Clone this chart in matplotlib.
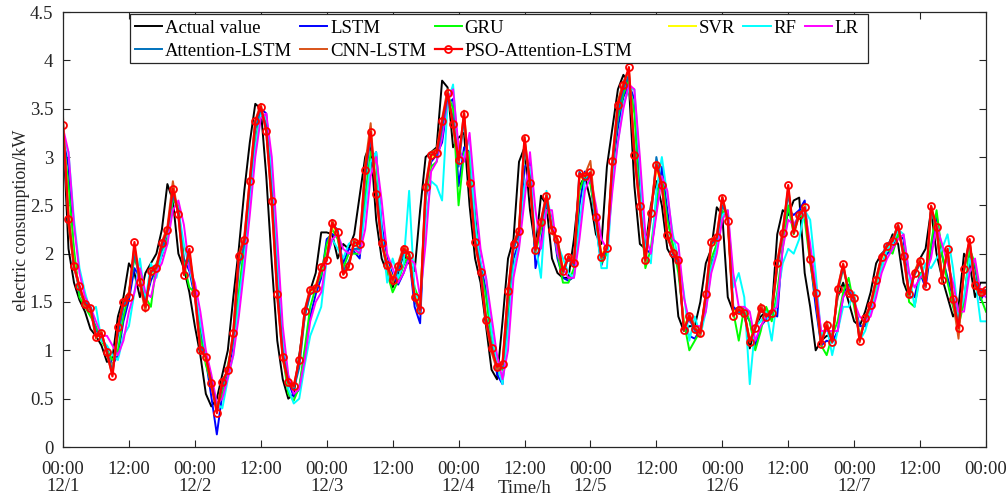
import numpy as np
import matplotlib
matplotlib.use('Agg')
import matplotlib.pyplot as plt
from matplotlib.patches import Rectangle

plt.rcParams['font.family'] = ['Liberation Serif', 'DejaVu Serif']

# ---------------- data (hourly, 12/1 00:00 -> 12/8 00:00) ----------------
actual = [
    3.30, 2.05, 1.70, 1.52, 1.40, 1.22, 1.15, 1.05, 0.88, 0.92,
    1.35, 1.55, 1.90, 1.80, 1.55, 1.80, 1.90, 2.00, 2.25, 2.72,
    2.55, 2.00, 1.85, 1.60, 1.25, 0.95, 0.55, 0.42, 0.50, 0.75,
    1.00, 1.55, 2.05, 2.65, 3.15, 3.55, 3.50, 2.80, 1.90, 1.10,
    0.70, 0.50, 0.55, 0.95, 1.35, 1.62, 1.80, 2.22, 2.22, 2.20,
    1.95, 2.10, 2.05, 2.20, 2.60, 3.00, 3.15, 2.35, 1.95, 1.80,
    1.65, 1.80, 2.00, 1.90, 1.82, 2.45, 3.00, 3.05, 3.10, 3.79,
    3.72, 3.10, 3.20, 3.25, 2.50, 1.95, 1.70, 1.25, 0.80, 0.70,
    1.30, 1.95, 2.15, 2.95, 3.10, 2.45, 2.05, 2.60, 2.50, 1.95,
    1.80, 1.75, 1.75, 2.15, 2.70, 2.80, 2.55, 2.20, 2.10, 2.90,
    3.30, 3.70, 3.85, 3.75, 2.70, 2.10, 2.05, 2.50, 2.75, 2.50,
    2.05, 1.95, 1.35, 1.20, 1.25, 1.25, 1.50, 1.90, 2.05, 2.48,
    2.40, 1.55, 1.40, 1.45, 1.40, 1.02, 1.25, 1.35, 1.40, 1.40,
    2.20, 2.45, 2.40, 2.55, 2.58, 1.80, 1.45, 1.00, 1.10, 1.15,
    1.15, 1.55, 1.70, 1.50, 1.30, 1.25, 1.40, 1.60, 1.90, 2.00,
    2.05, 2.20, 2.10, 1.70, 1.55, 1.80, 1.95, 2.05, 2.45, 2.00,
    1.75, 1.55, 1.35, 1.45, 2.00, 1.90, 1.55, 1.70, 1.70]

lstm = [
    3.20, 2.90, 1.95, 1.62, 1.48, 1.40, 1.20, 1.12, 1.02, 0.85,
    0.95, 1.30, 1.52, 1.85, 1.75, 1.50, 1.72, 1.85, 1.98, 2.20,
    2.62, 2.45, 1.95, 1.82, 1.55, 1.20, 0.90, 0.52, 0.13, 0.55,
    0.78, 1.05, 1.55, 2.02, 2.62, 3.12, 3.50, 3.45, 2.75, 1.85,
    1.05, 0.68, 0.52, 0.60, 0.98, 1.35, 1.58, 1.75, 2.15, 2.20,
    2.18, 1.90, 2.05, 2.02, 1.95, 2.55, 2.95, 3.05, 2.30, 1.95,
    1.78, 1.68, 1.80, 1.97, 1.45, 1.28, 2.55, 2.95, 3.02, 3.15,
    3.55, 3.60, 2.70, 3.10, 3.05, 2.40, 1.90, 1.62, 1.20, 0.75,
    0.65, 1.35, 1.95, 2.12, 2.90, 2.95, 1.85, 2.10, 2.55, 2.35,
    1.95, 1.75, 1.72, 1.76, 2.50, 2.85, 2.75, 2.30, 1.88, 2.05,
    2.85, 3.30, 3.62, 3.75, 3.60, 2.60, 2.05, 2.00, 2.45, 2.90,
    2.45, 2.00, 1.90, 1.25, 1.15, 1.12, 1.22, 1.48, 1.88, 2.05,
    2.42, 2.40, 1.45, 1.40, 1.40, 1.30, 1.05, 1.25, 1.32, 1.38,
    1.35, 2.10, 2.45, 2.40, 2.45, 2.55, 1.95, 1.45, 1.05, 1.10,
    1.08, 1.20, 1.55, 1.68, 1.50, 1.25, 1.25, 1.40, 1.62, 1.90,
    2.00, 2.05, 2.20, 2.15, 1.55, 1.55, 1.80, 1.65, 2.05, 2.40,
    1.98, 1.75, 1.55, 1.35, 1.48, 2.00, 1.85, 1.52, 1.62]

gru = [
    3.25, 2.70, 2.05, 1.55, 1.45, 1.35, 1.25, 1.10, 1.00, 0.90,
    1.00, 1.35, 1.60, 1.95, 1.80, 1.55, 1.45, 1.90, 2.00, 2.15,
    2.55, 2.50, 1.90, 1.65, 1.60, 1.15, 0.85, 0.65, 0.40, 0.55,
    0.85, 1.10, 1.60, 2.10, 2.65, 3.15, 3.45, 3.35, 2.65, 1.75,
    0.95, 0.55, 0.48, 0.62, 1.02, 1.45, 1.65, 1.78, 2.10, 2.25,
    2.15, 1.85, 2.00, 2.00, 2.00, 2.60, 3.05, 2.95, 2.20, 1.80,
    1.60, 1.72, 1.88, 2.00, 1.65, 1.50, 2.60, 2.90, 2.95, 3.25,
    3.65, 3.50, 2.50, 3.05, 3.05, 2.35, 1.85, 1.55, 1.10, 0.80,
    0.80, 1.45, 2.05, 2.25, 3.10, 2.80, 2.00, 2.25, 2.45, 2.35,
    2.00, 1.70, 1.70, 1.85, 2.65, 2.82, 2.72, 2.35, 1.90, 2.00,
    2.90, 3.40, 3.65, 3.80, 3.45, 2.50, 1.85, 2.05, 2.55, 2.80,
    2.35, 2.10, 1.80, 1.30, 1.00, 1.10, 1.20, 1.55, 1.95, 2.10,
    2.45, 2.35, 1.40, 1.10, 1.45, 1.30, 1.00, 1.20, 1.45, 1.30,
    1.60, 2.05, 2.50, 2.20, 2.40, 2.35, 1.90, 1.55, 1.05, 0.95,
    1.15, 1.30, 1.60, 1.75, 1.45, 1.15, 1.30, 1.45, 1.65, 1.85,
    2.05, 2.00, 2.20, 2.05, 1.50, 1.45, 1.80, 1.70, 2.10, 2.45,
    2.00, 1.70, 1.45, 1.25, 1.50, 2.05, 1.90, 1.55, 1.40]

svr = [
    3.30, 2.45, 1.90, 1.65, 1.50, 1.42, 1.18, 1.15, 1.00, 0.80,
    1.20, 1.45, 1.58, 2.05, 1.75, 1.50, 1.78, 1.85, 2.08, 2.22,
    2.62, 2.45, 1.82, 2.00, 1.62, 1.05, 0.90, 0.70, 0.40, 0.62,
    0.82, 1.15, 1.90, 2.12, 2.70, 3.30, 3.50, 3.30, 2.60, 1.65,
    0.98, 0.70, 0.62, 0.85, 1.35, 1.60, 1.68, 1.84, 1.95, 2.28,
    2.22, 1.82, 1.90, 2.10, 2.08, 2.80, 3.22, 2.68, 2.15, 1.90,
    1.75, 1.85, 2.02, 1.98, 1.60, 1.45, 2.62, 3.00, 3.02, 3.35,
    3.62, 3.38, 3.00, 3.40, 2.78, 2.18, 1.85, 1.35, 1.05, 0.85,
    0.88, 1.55, 2.08, 2.20, 3.12, 2.75, 2.08, 2.30, 2.58, 2.28,
    2.15, 1.85, 1.95, 1.90, 2.78, 2.80, 2.82, 2.40, 2.00, 2.05,
    2.90, 3.50, 3.72, 3.88, 3.08, 2.52, 1.98, 2.40, 2.88, 2.72,
    2.22, 2.02, 1.95, 1.25, 1.35, 1.22, 1.20, 1.55, 2.08, 2.15,
    2.52, 2.35, 1.40, 1.42, 1.40, 1.12, 1.22, 1.42, 1.36, 1.38,
    1.85, 2.18, 2.65, 2.25, 2.40, 2.50, 1.98, 1.62, 1.10, 1.25,
    1.10, 1.58, 1.85, 1.60, 1.55, 1.15, 1.32, 1.45, 1.70, 1.95,
    2.05, 2.12, 2.28, 2.00, 1.60, 1.78, 1.90, 1.70, 2.42, 2.30,
    1.78, 2.00, 1.55, 1.28, 1.80, 2.12, 1.70, 1.60, 1.60]

rf = [
    3.20, 3.05, 2.35, 1.85, 1.60, 1.40, 1.45, 1.10, 1.05, 0.95,
    0.90, 1.15, 1.25, 1.60, 1.95, 1.50, 1.90, 1.75, 2.00, 2.10,
    2.65, 2.45, 2.10, 1.85, 1.60, 1.30, 0.95, 0.65, 0.45, 0.40,
    0.70, 0.95, 1.50, 1.95, 2.55, 3.10, 3.45, 3.40, 2.80, 1.90,
    1.10, 0.60, 0.45, 0.50, 0.85, 1.15, 1.30, 1.45, 1.95, 2.15,
    2.05, 1.95, 2.10, 2.15, 2.00, 2.45, 2.95, 3.05, 2.25, 1.70,
    1.95, 1.75, 1.90, 2.65, 1.60, 1.50, 2.35, 2.75, 2.70, 2.55,
    3.55, 3.75, 3.00, 3.00, 3.20, 2.30, 1.90, 1.75, 1.20, 0.85,
    0.65, 1.20, 1.85, 2.10, 2.70, 2.90, 2.10, 1.75, 2.65, 2.30,
    2.10, 1.95, 1.80, 1.75, 2.30, 2.75, 2.85, 2.30, 1.85, 1.85,
    2.75, 3.15, 3.55, 3.70, 3.70, 2.90, 2.00, 1.90, 2.65, 3.00,
    2.60, 2.20, 1.95, 1.60, 1.10, 1.35, 1.15, 1.40, 1.85, 2.05,
    2.40, 2.45, 1.65, 1.80, 1.55, 0.65, 1.25, 1.30, 1.40, 1.10,
    1.55, 1.90, 2.05, 2.00, 2.15, 2.45, 2.35, 1.80, 1.15, 1.25,
    0.95, 1.20, 1.45, 1.45, 1.60, 1.10, 1.20, 1.40, 1.60, 1.85,
    2.05, 2.10, 2.25, 2.20, 1.80, 1.45, 1.75, 1.90, 1.85, 1.95,
    2.05, 2.20, 1.85, 1.35, 1.55, 1.95, 1.75, 1.30, 1.30]

lr = [
    3.30, 3.05, 2.30, 1.80, 1.55, 1.45, 1.30, 1.15, 1.15, 1.05,
    0.95, 1.10, 1.40, 1.60, 1.85, 1.60, 1.55, 1.80, 1.90, 2.10,
    2.45, 2.55, 2.30, 1.85, 1.70, 1.40, 1.00, 0.75, 0.45, 0.50,
    0.72, 0.95, 1.35, 1.85, 2.40, 3.00, 3.40, 3.45, 3.00, 2.15,
    1.25, 0.75, 0.55, 0.60, 0.90, 1.30, 1.50, 1.60, 1.95, 2.15,
    2.20, 2.05, 2.00, 2.05, 2.00, 2.25, 2.80, 3.00, 2.55, 2.00,
    1.85, 1.70, 1.80, 1.95, 1.90, 1.55, 2.10, 2.85, 2.95, 3.20,
    3.60, 3.70, 3.10, 2.95, 3.25, 2.60, 2.05, 1.75, 1.35, 0.95,
    0.70, 1.00, 1.75, 2.05, 2.55, 3.05, 2.45, 2.05, 2.45, 2.45,
    2.00, 1.85, 1.75, 1.75, 2.15, 2.65, 2.80, 2.50, 2.15, 2.05,
    2.65, 3.15, 3.50, 3.75, 3.70, 3.00, 2.20, 2.00, 2.40, 2.80,
    2.65, 2.15, 2.10, 1.55, 1.30, 1.25, 1.25, 1.40, 1.80, 2.00,
    2.35, 2.45, 1.80, 1.45, 1.45, 1.40, 1.10, 1.25, 1.35, 1.40,
    1.45, 2.05, 2.35, 2.30, 2.40, 2.45, 2.10, 1.65, 1.20, 1.20,
    1.20, 1.20, 1.55, 1.65, 1.50, 1.35, 1.30, 1.35, 1.55, 1.80,
    1.95, 2.05, 2.15, 2.20, 1.80, 1.65, 1.75, 1.80, 1.95, 2.30,
    2.10, 1.90, 1.70, 1.40, 1.40, 1.80, 1.95, 1.60, 1.55]

att_lstm = [
    3.28, 2.40, 1.88, 1.62, 1.50, 1.45, 1.20, 1.16, 1.00, 0.78,
    1.15, 1.45, 1.58, 2.00, 1.72, 1.48, 1.80, 1.88, 2.05, 2.25,
    2.60, 2.45, 1.85, 1.95, 1.62, 1.05, 0.92, 0.68, 0.38, 0.62,
    0.82, 1.12, 1.85, 2.10, 2.70, 3.28, 3.50, 3.32, 2.62, 1.68,
    0.98, 0.68, 0.60, 0.82, 1.35, 1.58, 1.62, 1.85, 1.95, 2.30,
    2.25, 1.82, 1.92, 2.05, 2.05, 2.78, 3.20, 2.70, 2.15, 1.85,
    1.72, 1.82, 2.02, 2.00, 1.52, 1.38, 2.62, 3.05, 3.00, 3.30,
    3.62, 3.40, 2.90, 3.40, 2.80, 2.15, 1.85, 1.35, 1.05, 0.80,
    0.82, 1.55, 2.05, 2.20, 3.10, 2.78, 2.05, 2.30, 2.55, 2.25,
    2.10, 1.80, 1.95, 1.88, 2.85, 2.75, 2.82, 2.40, 1.95, 2.05,
    2.90, 3.45, 3.70, 3.85, 3.10, 2.50, 1.95, 2.35, 3.00, 2.70,
    2.20, 2.00, 1.90, 1.22, 1.33, 1.20, 1.18, 1.55, 2.10, 2.15,
    2.50, 2.38, 1.38, 1.40, 1.38, 1.10, 1.22, 1.42, 1.35, 1.38,
    1.85, 2.20, 2.62, 2.25, 2.42, 2.48, 1.95, 1.60, 1.08, 1.25,
    1.10, 1.60, 1.85, 1.62, 1.52, 1.12, 1.32, 1.46, 1.72, 1.98,
    2.10, 2.15, 2.30, 2.00, 1.60, 1.78, 1.90, 1.70, 2.45, 2.25,
    1.75, 2.02, 1.55, 1.25, 1.82, 2.12, 1.70, 1.62, 1.62]

cnn_lstm = [
    3.42, 2.30, 1.85, 1.65, 1.45, 1.42, 1.12, 1.20, 0.95, 0.75,
    1.25, 1.52, 1.60, 2.08, 1.68, 1.40, 1.85, 1.88, 2.12, 2.28,
    2.75, 2.38, 1.80, 2.02, 1.55, 0.98, 0.95, 0.62, 0.38, 0.70,
    0.78, 1.20, 2.00, 2.18, 2.78, 3.38, 3.55, 3.25, 2.50, 1.55,
    0.90, 0.65, 0.62, 0.92, 1.42, 1.65, 1.62, 1.88, 1.95, 2.35,
    2.20, 1.78, 1.85, 2.15, 2.12, 2.92, 3.35, 2.58, 2.10, 1.85,
    1.68, 1.90, 2.08, 2.00, 1.55, 1.40, 2.72, 3.05, 3.08, 3.40,
    3.70, 3.30, 2.95, 3.48, 2.70, 2.10, 1.80, 1.28, 0.98, 0.80,
    0.85, 1.62, 2.12, 2.25, 3.22, 2.70, 2.02, 2.35, 2.62, 2.22,
    2.12, 1.80, 1.98, 1.92, 2.80, 2.82, 2.96, 2.35, 1.95, 2.08,
    2.98, 3.58, 3.78, 3.90, 3.00, 2.45, 1.90, 2.45, 2.95, 2.70,
    2.15, 2.05, 1.95, 1.20, 1.38, 1.25, 1.15, 1.60, 2.15, 2.20,
    2.60, 2.35, 1.35, 1.45, 1.40, 1.08, 1.25, 1.48, 1.35, 1.40,
    1.92, 2.25, 2.68, 2.22, 2.42, 2.45, 1.92, 1.58, 1.05, 1.30,
    1.08, 1.65, 1.90, 1.58, 1.55, 1.08, 1.35, 1.48, 1.75, 1.98,
    2.08, 2.15, 2.30, 1.95, 1.55, 1.82, 1.95, 1.65, 2.50, 2.25,
    1.70, 2.05, 1.50, 1.12, 1.85, 2.15, 1.65, 1.58, 1.60]

pso_att_lstm = [
    3.33, 2.36, 1.87, 1.67, 1.48, 1.44, 1.14, 1.18, 0.98, 0.73,
    1.24, 1.50, 1.55, 2.12, 1.71, 1.45, 1.82, 1.85, 2.11, 2.24,
    2.67, 2.41, 1.78, 2.05, 1.59, 1.00, 0.93, 0.66, 0.35, 0.67,
    0.80, 1.18, 1.98, 2.14, 2.75, 3.37, 3.52, 3.27, 2.54, 1.58,
    0.93, 0.67, 0.63, 0.90, 1.41, 1.62, 1.65, 1.86, 1.93, 2.32,
    2.22, 1.79, 1.87, 2.12, 2.10, 2.87, 3.26, 2.62, 2.11, 1.88,
    1.73, 1.87, 2.05, 1.99, 1.55, 1.42, 2.69, 3.02, 3.04, 3.37,
    3.66, 3.34, 2.97, 3.45, 2.73, 2.12, 1.81, 1.31, 1.02, 0.83,
    0.86, 1.61, 2.10, 2.23, 3.20, 2.73, 2.04, 2.33, 2.60, 2.25,
    2.15, 1.82, 1.97, 1.90, 2.83, 2.80, 2.84, 2.38, 1.97, 2.06,
    2.96, 3.54, 3.74, 3.93, 3.02, 2.49, 1.93, 2.42, 2.92, 2.71,
    2.19, 2.01, 1.93, 1.21, 1.36, 1.22, 1.18, 1.58, 2.12, 2.17,
    2.58, 2.34, 1.36, 1.42, 1.39, 1.09, 1.23, 1.44, 1.35, 1.39,
    1.90, 2.21, 2.71, 2.21, 2.40, 2.48, 1.94, 1.59, 1.07, 1.26,
    1.09, 1.63, 1.89, 1.59, 1.54, 1.10, 1.33, 1.47, 1.73, 1.97,
    2.08, 2.13, 2.29, 1.98, 1.58, 1.80, 1.92, 1.67, 2.49, 2.28,
    1.73, 2.05, 1.53, 1.23, 1.84, 2.15, 1.68, 1.60, 1.62]

tick_hours = [0, 12, 24, 36, 48, 60, 72, 84, 96, 108, 120, 132, 144, 156, 168]
tick_labels = ['00:00\n12/1', '12:00', '00:00\n12/2', '12:00', '00:00\n12/3',
               '12:00', '00:00\n12/4', '12:00', '00:00\n12/5', '12:00',
               '00:00\n12/6', '12:00', '00:00\n12/7', '12:00', '00:00']
y_ticks = [0, 0.5, 1, 1.5, 2, 2.5, 3, 3.5, 4, 4.5]
y_tick_labels = ['0', '0.5', '1', '1.5', '2', '2.5', '3', '3.5', '4', '4.5']

series = [
    ('Actual value', actual, '#000000'),
    ('LSTM', lstm, '#0000FF'),
    ('GRU', gru, '#00FF00'),
    ('SVR', svr, '#FFFF00'),
    ('RF', rf, '#00FFFF'),
    ('LR', lr, '#FF00FF'),
    ('Attention-LSTM', att_lstm, '#0072BD'),
    ('CNN-LSTM', cnn_lstm, '#D95319'),
]

# ---------------- figure ----------------
W, H = 1008, 500
fig = plt.figure(figsize=(W / 100, H / 100), dpi=100)
ax_l, ax_r, ax_t, ax_b = 63, 986, 12, 447
ax = fig.add_axes([ax_l / W, 1 - ax_b / H, (ax_r - ax_l) / W, (ax_b - ax_t) / H])

hours = np.arange(len(actual))
handles = {}
for name, vals, col in series:
    h, = ax.plot(hours, vals, color=col, lw=1.4, label=name)
    handles[name] = h
hp, = ax.plot(hours, pso_att_lstm, color='#FF0000', lw=1.6, marker='o',
              markersize=5, markerfacecolor='none', markeredgewidth=1.3,
              label='PSO-Attention-LSTM')
handles['PSO-Attention-LSTM'] = hp

ax.set_xlim(0, 168)
ax.set_ylim(0, 4.5)
ax.set_xticks(tick_hours)
ax.set_xticklabels(tick_labels)
ax.set_yticks(y_ticks)
ax.set_yticklabels(y_tick_labels)
for lbl in ax.get_xticklabels():
    lbl.set_linespacing(1.0)
ax.tick_params(direction='in', top=True, right=True, length=5, width=0.8,
               labelsize=13.5, colors='#262626', labelcolor='#262626')
ax.tick_params(axis='x', pad=10)
ax.tick_params(axis='y', pad=7)
for sp in ax.spines.values():
    sp.set_linewidth(0.9)
    sp.set_color('#262626')

ax.set_ylabel('electric consumption/kW', fontsize=13, color='#262626')
ax.yaxis.set_label_coords(-0.036, 0.52)
ax.text(0.5, -0.095, 'Time/h', transform=ax.transAxes, ha='center', va='center',
        fontsize=13.5, color='#262626')

# ---------------- legend (single box, two groups) ----------------
def to_ax(px, py):
    return ((px - ax_l) / (ax_r - ax_l), (ax_b - py) / (ax_b - ax_t))

bx0, by0 = to_ax(130, 14)
bx1, by1 = to_ax(868, 63)
rect = Rectangle((bx0, by1), bx1 - bx0, by0 - by1, transform=ax.transAxes,
                 facecolor='white', edgecolor='#262626', lw=0.9, zorder=10)
ax.add_patch(rect)

common = dict(frameon=False, fontsize=13.5, handlelength=1.45, handletextpad=0.15,
              columnspacing=0.45, labelspacing=0.3, borderpad=0.3,
              borderaxespad=0, numpoints=1, loc='upper left')
names1 = ['Actual value', 'Attention-LSTM', 'LSTM', 'CNN-LSTM', 'GRU', 'PSO-Attention-LSTM']
leg1 = ax.legend([handles[n] for n in names1], names1, ncol=3,
                 bbox_to_anchor=to_ax(129, 14), **common)
leg1.set_zorder(11)
ax.add_artist(leg1)
names2 = ['SVR', 'RF', 'LR']
leg2 = ax.legend([handles[n] for n in names2], names2, ncol=3,
                 bbox_to_anchor=to_ax(663, 14), **common)
leg2.set_zorder(11)

fig.savefig('out.png', dpi=100)
